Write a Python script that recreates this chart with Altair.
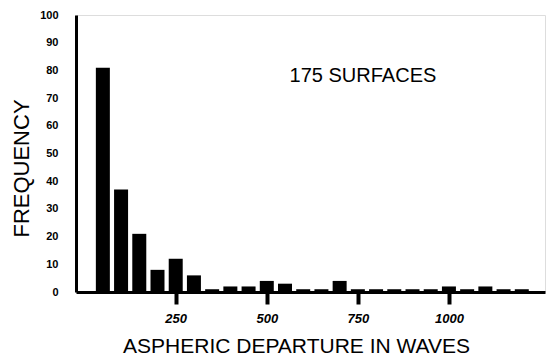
import altair as alt
import pandas as pd

departure = [50, 100, 150, 200, 250, 300, 350, 400, 450, 500, 550, 600, 650, 700,
             750, 800, 850, 900, 950, 1000, 1050, 1100, 1150, 1200]
frequency = [81, 37, 21, 8, 12, 6, 1, 2, 2, 4, 3, 1, 1, 4,
             1, 1, 1, 1, 1, 2, 1, 2, 1, 1]
x_ticks = [250, 500, 750, 1000]
y_ticks = [0, 10, 20, 30, 40, 50, 60, 70, 80, 90, 100]
annotation = ["175 SURFACES"]

df = pd.DataFrame({"departure": departure, "frequency": frequency})
ann_df = pd.DataFrame({"label": annotation})

FONT = "Liberation Sans"

x_scale = alt.Scale(domain=[-10, 1250], nice=False, zero=False)
y_scale = alt.Scale(domain=[0, 100], nice=False)

x_axis = alt.Axis(
    values=x_ticks, format="d", title="ASPHERIC DEPARTURE IN WAVES", grid=False,
    domainColor="black", domainWidth=3, tickColor="black", tickWidth=4,
    tickSize=12, labelFontStyle="italic", labelFontWeight="bold",
    labelFontSize=13, labelFont=FONT, labelColor="black", labelPadding=8,
    labelOverlap=False,
    titleFont=FONT, titleFontSize=21, titleFontWeight="normal",
    titleColor="black", titlePadding=10, titleX=220,
)
y_axis = alt.Axis(
    values=y_ticks, title="FREQUENCY", grid=False, ticks=False,
    domainColor="black", domainWidth=3, labelFontWeight="bold",
    labelFontSize=11, labelFont=FONT, labelColor="black", labelPadding=18,
    labelOverlap=False, labelFlush=False,
    titleFont=FONT, titleFontSize=22, titleFontWeight="normal",
    titleColor="black", titlePadding=6, titleY=153,
)

bars = alt.Chart(df).mark_bar(size=14, color="black").encode(
    x=alt.X("departure:Q", scale=x_scale, axis=x_axis),
    y=alt.Y("frequency:Q", scale=y_scale, axis=y_axis),
)

label = alt.Chart(ann_df).mark_text(
    font=FONT, fontSize=20, color="black", align="center", baseline="middle"
).encode(
    x=alt.XDatum(764, scale=x_scale, axis=x_axis),
    y=alt.YDatum(78, scale=y_scale, axis=y_axis),
    text="label:N",
)

chart = alt.layer(bars, label).properties(
    width=469, height=277,
    autosize=alt.AutoSizeParams(type="none"),
    padding={"left": 76, "top": 15, "right": 2, "bottom": 70},
).configure_view(stroke=None).configure(background="white")

chart.save("out.html", embed_options={"renderer": "svg", "actions": False})
